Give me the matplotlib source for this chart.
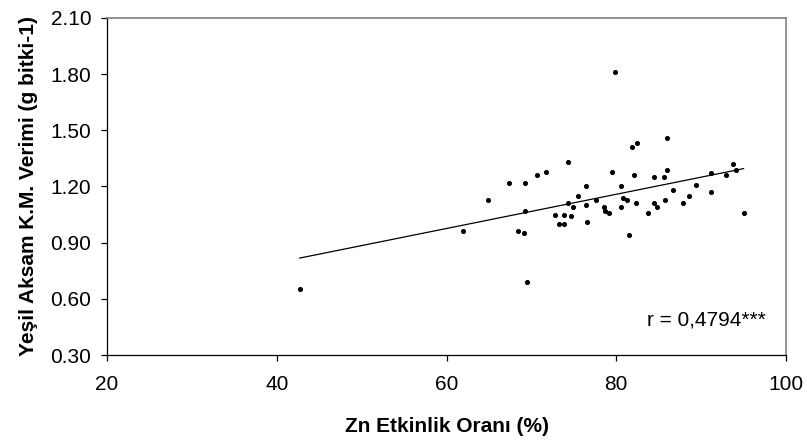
import numpy as np
import matplotlib
matplotlib.use("Agg")
import matplotlib.pyplot as plt
from matplotlib.ticker import FormatStrFormatter

plt.rcParams["font.family"] = ["Liberation Sans", "DejaVu Sans"]

# Zn efficiency ratio (%) vs green shoot dry matter yield (g plant-1)
zn_ratio = [
    79.9, 86.0, 81.8, 82.5, 74.3, 70.7, 71.7, 79.5, 86.0, 82.1,
    84.4, 85.6, 91.2, 92.9, 93.8, 94.1, 76.4, 80.6, 75.5, 77.6,
    74.3, 74.9, 76.4, 72.8, 73.8, 74.7, 73.3, 73.8, 76.6, 78.5,
    78.7, 79.2, 80.8, 81.3, 80.6, 82.3, 81.5, 83.7, 84.4, 84.8,
    85.8, 86.7, 87.9, 88.6, 89.4, 91.2, 95.0, 42.7, 62.0, 64.9,
    67.4, 69.3, 69.3, 68.4, 69.1, 69.5,
]
yield_dm = [
    1.81, 1.46, 1.41, 1.43, 1.33, 1.26, 1.28, 1.28, 1.29, 1.26,
    1.25, 1.25, 1.27, 1.26, 1.32, 1.29, 1.20, 1.20, 1.15, 1.13,
    1.11, 1.09, 1.10, 1.05, 1.05, 1.04, 1.00, 1.00, 1.01, 1.09,
    1.07, 1.06, 1.14, 1.13, 1.09, 1.11, 0.94, 1.06, 1.11, 1.09,
    1.13, 1.18, 1.11, 1.15, 1.21, 1.17, 1.06, 0.65, 0.96, 1.13,
    1.22, 1.22, 1.07, 0.96, 0.95, 0.69,
]
r_text = "r = 0,4794***"

x = np.array(zn_ratio)
y = np.array(yield_dm)
slope, intercept = np.polyfit(x, y, 1)
xl = np.array([x.min(), x.max()])

fig = plt.figure(figsize=(8.07, 4.45), dpi=100)
ax = fig.add_axes([0.1326, 0.2022, 0.8414, 0.7574])

ax.plot(xl, slope * xl + intercept, color="black", lw=0.9)
ax.scatter(x, y, s=7, color="black", zorder=3)

ax.set_xlim(20, 100)
ax.set_ylim(0.30, 2.10)
ax.set_xticks([20, 40, 60, 80, 100])
ax.set_yticks(np.arange(0.30, 2.11, 0.30))
ax.yaxis.set_major_formatter(FormatStrFormatter("%.2f"))
ax.tick_params(direction="out", length=4.3, width=0.9, labelsize=15, colors="black")
ax.tick_params(axis="y", pad=7)
ax.tick_params(axis="x", pad=10)

for side in ("top", "right"):
    ax.spines[side].set_color("#808080")
    ax.spines[side].set_linewidth(1.2)
for side in ("left", "bottom"):
    ax.spines[side].set_color("black")
    ax.spines[side].set_linewidth(0.9)

ax.set_xlabel("Zn Etkinlik Oranı (%)", fontsize=15, fontweight="bold", labelpad=17)
ax.set_ylabel("Yeşil Aksam K.M. Verimi (g bitki-1)", fontsize=15, fontweight="bold", labelpad=9)

ax.text(0.9705, 0.104, r_text, transform=ax.transAxes, ha="right", va="center", fontsize=15)

fig.savefig("out.png", dpi=100)
